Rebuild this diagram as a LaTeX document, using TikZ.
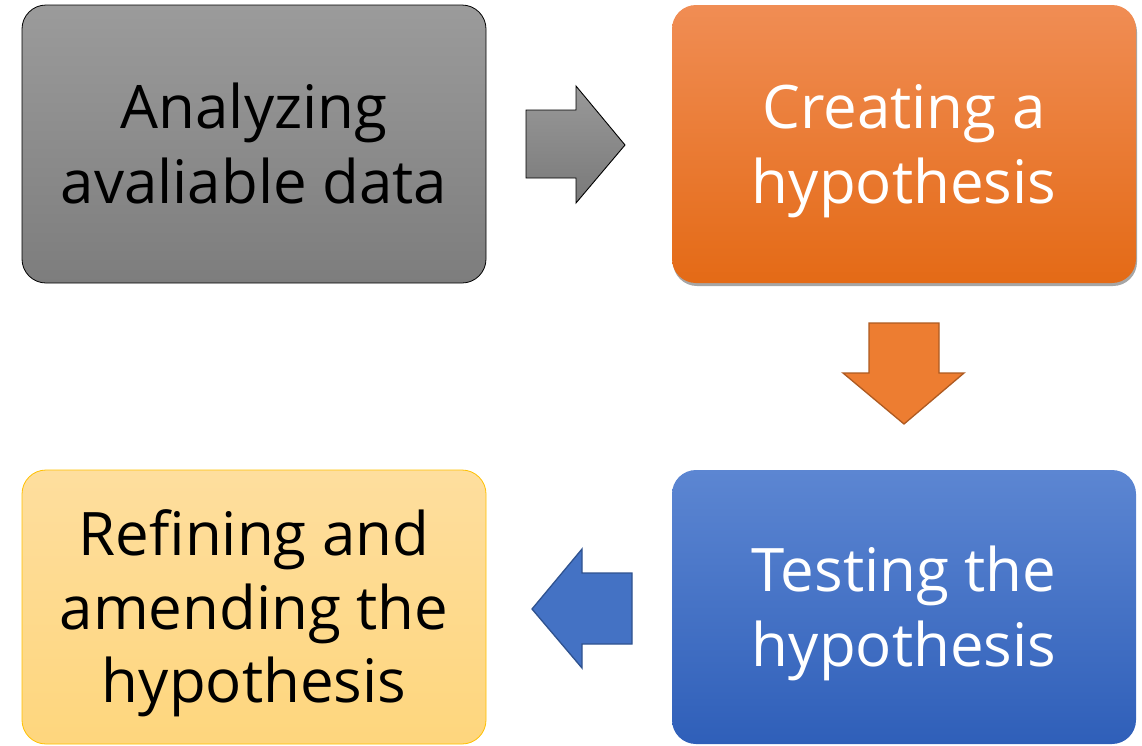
\documentclass[tikz,border=0pt]{standalone}
\usepackage{fontspec}
\setmainfont{Open Sans}
\usetikzlibrary{shadows}
\newcommand\tstrut{\rule{0pt}{60pt}}
\newcommand\bstrut{\rule[-16pt]{0pt}{16pt}}
\begin{document}
\begin{tikzpicture}[x=1pt,y=-1pt,
  box/.style={rounded corners=24pt, minimum width=464pt, align=center, inner sep=0pt,
    font=\fontsize{60}{75}\selectfont},
  grayarrow/.style={draw=black, line width=0.9pt, top color=gray!80!white, bottom color=gray!95!black, line join=miter},
  orangearrow/.style={draw={rgb,255:red,174;green,90;blue,33}, line width=1.3pt, fill={rgb,255:red,237;green,125;blue,49}},
  bluearrow/.style={draw={rgb,255:red,47;green,82;blue,143}, line width=1.3pt, fill={rgb,255:red,68;green,114;blue,196}}
]
\definecolor{gtop}{RGB}{155,155,155}
\definecolor{gbot}{RGB}{125,125,125}
\definecolor{otop}{RGB}{240,141,84}
\definecolor{obot}{RGB}{228,106,22}
\definecolor{btop}{RGB}{92,134,210}
\definecolor{bbot}{RGB}{47,95,185}
\definecolor{ytop}{RGB}{254,222,158}
\definecolor{ybot}{RGB}{254,214,125}
\definecolor{yline}{RGB}{255,192,0}
\useasboundingbox (0,0) rectangle (1142,745);

\node[box, minimum height=278pt, draw=black, line width=0.8pt, top color=gtop, bottom color=gbot, text=black]
  (analyze) at (254,144) {\tstrut Analyzing\\avaliable data\bstrut};
\node[box, minimum height=278pt, top color=otop, bottom color=obot, text=white,
  drop shadow={shadow xshift=1pt, shadow yshift=-3pt, opacity=0.35, fill=black}]
  (create) at (904,144) {\tstrut Creating a\\hypothesis\bstrut};
\node[box, minimum height=274pt, top color=btop, bottom color=bbot, text=white]
  (test) at (904,607) {\tstrut Testing the\\hypothesis\bstrut};
\node[box, minimum height=274pt, draw=yline, line width=0.8pt, top color=ytop, bottom color=ybot, text=black,
  font=\fontsize{60}{73.5}\selectfont]
  (refine) at (254,607) {\tstrut Refining and\\amending the\\hypothesis\bstrut};

% block arrows
\draw[grayarrow] (526,110) -- (576,110) -- (576,86) -- (625,145) -- (576,203) -- (576,178) -- (526,178) -- cycle;
\draw[orangearrow] (869,323) -- (939,323) -- (939,373) -- (964,373) -- (904,424) -- (843,373) -- (869,373) -- cycle;
\draw[bluearrow] (632,573) -- (582,573) -- (582,549) -- (532,609) -- (582,668) -- (582,644) -- (632,644) -- cycle;
\end{tikzpicture}
\end{document}
